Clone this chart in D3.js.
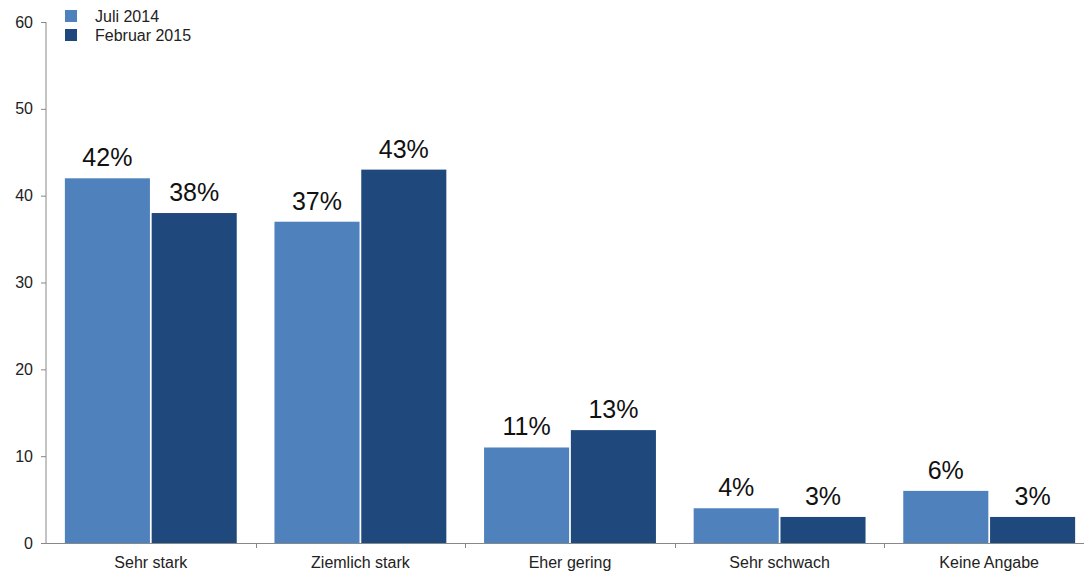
<!DOCTYPE html>
<html>
<head>
<meta charset="utf-8">
<script src="https://cdn.jsdelivr.net/npm/d3@7"></script>
<style>
  html, body { margin: 0; padding: 0; background: #fff; }
  svg { display: block; font-family: "Liberation Sans", Arial, sans-serif; }
</style>
</head>
<body>
<svg id="chart" width="1084" height="571"></svg>
<script>
// Survey answers, two waves
const categories = ["Sehr stark", "Ziemlich stark", "Eher gering", "Sehr schwach", "Keine Angabe"];
const seriesNames = ["Juli 2014", "Februar 2015"];
const juli2014 = [42, 37, 11, 4, 6];
const februar2015 = [38, 43, 13, 3, 3];
const yTicks = [0, 10, 20, 30, 40, 50, 60];
const colors = ["#4F81BD", "#1F497D"];

const series = [juli2014, februar2015];

const svg = d3.select("#chart");
const plotLeft = 46, plotRight = 1094, plotTop = 22, plotBottom = 543;

const x = d3.scaleBand().domain(categories).range([plotLeft, plotRight]).paddingInner(0.18).paddingOuter(0.09);
const xInner = d3.scaleBand().domain(seriesNames).range([0, x.bandwidth()]).paddingInner(0.02);
const y = d3.scaleLinear().domain([0, 60]).range([plotBottom, plotTop]);

// bars with value labels
categories.forEach((cat, i) => {
  seriesNames.forEach((name, s) => {
    const v = series[s][i];
    svg.append("rect")
      .attr("x", x(cat) + xInner(name))
      .attr("y", y(v))
      .attr("width", xInner.bandwidth())
      .attr("height", y(0) - y(v))
      .attr("fill", colors[s]);
    svg.append("text")
      .attr("x", x(cat) + xInner(name) + xInner.bandwidth() / 2)
      .attr("y", y(v) - 12)
      .attr("text-anchor", "middle")
      .attr("font-size", 25)
      .attr("fill", "#111")
      .text(v + "%");
  });
});

// y axis
const yAxis = d3.axisLeft(y).tickValues(yTicks).tickSize(5).tickPadding(8);
const gy = svg.append("g").attr("transform", `translate(${plotLeft},0)`).call(yAxis);
gy.select(".domain").attr("stroke", "#888").attr("d", `M0,${plotTop}V${plotBottom}`);
gy.selectAll(".tick line").attr("stroke", "#888");
gy.selectAll(".tick text").attr("font-size", 16).attr("fill", "#222").attr("font-family", "Liberation Sans, Arial, sans-serif");

// x axis: baseline and boundary ticks between categories
svg.append("line").attr("x1", plotLeft).attr("x2", 1084).attr("y1", plotBottom + 0.5).attr("y2", plotBottom + 0.5).attr("stroke", "#888");
const step = x.step();
d3.range(1, categories.length).forEach(k => {
  const bx = Math.round(plotLeft + k * step) + 0.5;
  svg.append("line").attr("x1", bx).attr("x2", bx).attr("y1", plotBottom).attr("y2", plotBottom + 5).attr("stroke", "#888");
});
svg.selectAll(".catlabel").data(categories).enter().append("text")
  .attr("x", d => x(d) + x.bandwidth() / 2)
  .attr("y", 568)
  .attr("text-anchor", "middle")
  .attr("font-size", 16)
  .attr("fill", "#222")
  .text(d => d);

// legend
seriesNames.forEach((name, s) => {
  const ly = 10 + s * 19;
  svg.append("rect").attr("x", 65).attr("y", ly).attr("width", 12).attr("height", 12).attr("fill", colors[s]);
  svg.append("text").attr("x", 95).attr("y", ly + 12).attr("font-size", 16).attr("fill", "#222").text(name);
});
</script>
</body>
</html>
